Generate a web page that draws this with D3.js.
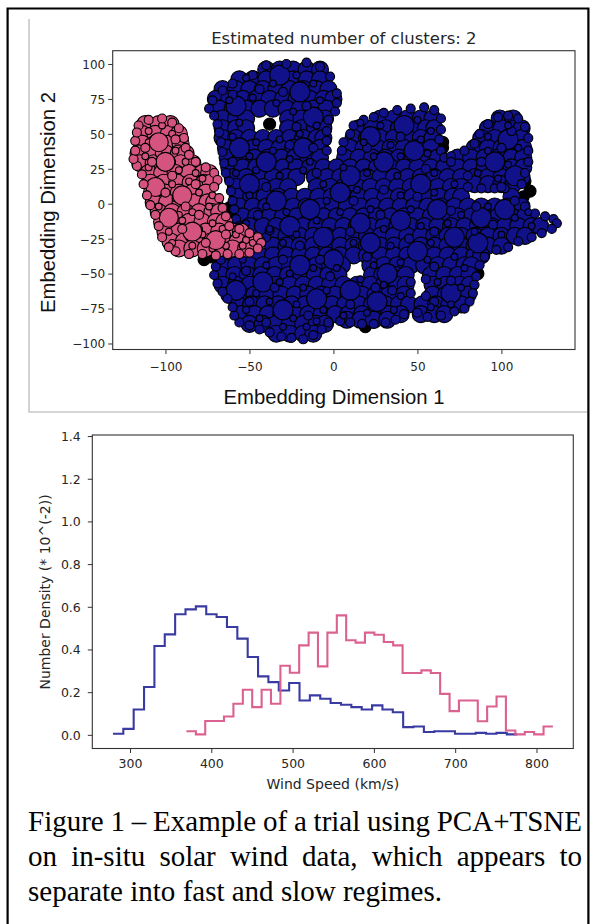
<!DOCTYPE html>
<html>
<head>
<meta charset="utf-8">
<script src="https://cdn.jsdelivr.net/npm/d3@7"></script>
<style>
  html, body { margin: 0; padding: 0; background: #fff; }
  svg { display: block; }
</style>
</head>
<body>
<script>
// ---------------- data ----------------
// Tick values
const embedTicksX = [-100, -50, 0, 50, 100];
const embedTicksY = [-100, -75, -50, -25, 0, 25, 50, 75, 100];
const speedTicks = [300, 400, 500, 600, 700, 800];
const densityTicks = [0.0, 0.2, 0.4, 0.6, 0.8, 1.0, 1.2, 1.4];

// t-SNE embedding, slow-wind cluster (navy). Rows: [dim2, dim1, dim1, ...]
const slowRows = [
  [96, -40,-32,-24,-16,-8],
  [89, -56,-48,-40,-32,-24,-16,-8],
  [82, -66,-58,-50,-42,-34,-26,-18,-10,-3],
  [75, -70,-62,-54,-46,-38,-30,-22,-14,-6,0],
  [68, -68,-60,-52,-44,-36,-28,-20,-12,-4],
  [61, -66,-58,-52,-27,-19,-11,-5, 28,36,44,52,59, 99,107],
  [54, -66,-58,-52,-27,-19,-11,-6, 15,23,31,39,47,55,60, 92,100,108,112],
  [47, -66,-58,-50,-42,-34,-26,-18,-10,-6, 12,20,28,36,44,52,59, 88,96,104,112],
  [40, -64,-56,-48,-40,-32,-24,-16,-8, 10,18,26,34,42,50,58, 84,92,100,108,113],
  [33, -63,-55,-47,-39,-31,-23,-15,-8, 7,15,23,31,39,47,55,62, 74,82,90,98,106,113],
  [26, -62,-54,-46,-38,-30,-22,-14,-6,2,10,18,26,34,42,50,58,66,74,82,90,98,106,113],
  [19, -60,-52,-44,-36,-28,-22,-11,-4,4,12,20,28,36,44,52,60,68,76,84,92,100,108,112],
  [14, 84,92,100,107],
  [12, -58,-50,-42,-34,-27, -10,-2,6,14,22,30,38,46,54,62,70,76],
  [5, -57,-49,-41,-33,-25,-17,-9,-1,7,15,23,31,39,47,55,63,71,76, 106],
  [-2, -56,-48,-40,-32,-24,-16,-8,0,8,16,24,32,40,48,56,64,72,80,88,96,104,112],
  [-9, -54,-46,-38,-30,-22,-14,-6,2,10,18,26,34,42,50,58,66,74,82,90,98,106,114],
  [-16, -50,-42,-34,-26,-18,-10,-2,6,14,22,30,38,46,54,62,70,78,86,94,102,110,118,123],
  [-23, -36,-28,-20,-12,-4,4,12,20,28,36,44,52,60,68,76,84,92,100,108,114],
  [-30, -36,-28,-20,-12,-4,4,12,20,28,36,44,52,60,68,76,84,92,100],
  [-37, -60,-52,-44,-36,-28,-20,-12,-4,4,12,20,28,36,44,52,60,68,76,84,88],
  [-44, -66,-58,-50,-42,-34,-26,-18,-10,-2,5, 22,30,38,46,54,62,70,78,82],
  [-51, -67,-59,-51,-43,-35,-27,-19,-11,-3,3, 23,29,37,43, 58,66,74,81],
  [-58, -66,-58,-50,-42,-34,-26,-18,-10,-2,6,14,22,30,38,43, 59,67,75,81],
  [-65, -62,-55,-47,-39,-31,-23,-15,-7,1,9,17,25,33,42, 59,67,75,80],
  [-72, -57,-49,-41,-33,-25,-17,-9,-1,7,15,23,31,39,45, 53,61,69,76],
  [-79, -55,-47,-39,-31,-23,-15,-7,1,9,17,25,33,40, 52,60,66],
  [-83, 8,16,24,32],
  [-86, -50,-42,-34,-26,-18,-10,-5],
  [-93, -34,-26,-18,-12]
];
// larger markers of the slow cluster: [dim1, dim2]
const slowLarge = [
  [-32,92],[-20,80],[-58,70],[-12,62],[-56,40],[-40,30],[-18,40],[-50,14],[-34,2],[-14,-4],
  [4,8],[22,48],[42,56],[48,38],[30,30],[10,20],[52,14],[62,-4],[40,-12],[22,-28],[-6,-24],
  [-20,-44],[-42,-56],[-30,-76],[-10,-68],[10,-62],[26,-70],[32,-50],[72,-24],[88,-10],
  [102,-4],[104,46],[96,30],[108,20],[70,-64],[-58,-62],[0,-40],[16,-14],[-26,-16],[50,-34],[86,-28]
];
// smaller markers of the slow cluster: [dim1, dim2]
const slowSmall = [
  [-48,92],[-40,99],[-28,100],[-16,101],[-8,98],[-2,91],[-60,86],[-66,81],[-72,74],[-74,68],[2,79],[2,72],[1,66],
  [-71,63],[-69,57],[-68,51],[-67,44],[-66,37],[-65,29],[-64,22],[-62,16],[-61,9],[-60,2],[-59,-4],[-58,-11],[-56,-16],
  [10,50],[12,56],[18,60],[24,62],[30,65],[38,67],[46,68],[54,69],[60,67],[64,61],[64,53],[63,46],[64,38],[66,33],
  [6,44],[5,38],[-3,60],[-4,52],[-4,45],[-4,38],
  [70,34],[78,38],[84,43],[87,50],[92,57],[98,62],[104,63],[110,61],[114,55],[116,47],[116,38],[116,30],[114,22],[112,14],
  [80,12],[88,11],[96,11],[102,11],
  [108,2],[114,-2],[120,-7],[126,-9],[131,-11],[133,-14],[130,-18],[124,-21],[118,-24],[110,-27],[104,-31],[97,-33],
  [90,-38],[87,-44],[85,-52],[84,-58],[83,-64],[81,-70],[78,-75],[72,-77],[64,-80],[56,-81],[50,-78],
  [46,-56],[46,-64],[55,-54],[55,-66],
  [4,-84],[10,-85],[17,-86],[24,-86],[31,-85],[37,-83],[42,-79],
  [-3,-85],[-7,-90],[-12,-94],[-18,-97],[-25,-96],[-31,-95],[-38,-92],[-44,-90],[-50,-87],[-56,-85],[-59,-80],
  [-60,-74],[-63,-68],[-66,-63],[-69,-57],[-71,-51],[-70,-45],[-67,-40],[-63,-37],[-57,-34],[-50,-31],[-44,-28],[-40,-24],[-38,-19],
  [-30,80],[-16,70],[-60,30],[-40,12],[-10,22],[20,40],[40,48],[30,10],[55,25],[80,20],[100,12],[95,-15],[70,-5],
  [45,-25],[20,-38],[-20,-30],[-45,-8],[-35,-60],[-15,-80],[10,-72],[35,-62],[60,-45],[70,-55],[100,40],[106,52],
  [-26,42],[-12,40],[10,-20],[-2,-52],[-22,55],[-60,78],[-44,82],[28,-8],[50,5],[85,-2],[60,-20],[-30,-40],
  [-50,-70],[-40,-85],[25,-60],[60,-70],[70,30],[88,30],[-52,-48],[-8,-40],[12,2]
];
// tiny markers scattered through the slow cluster: [dim1, dim2]
const slowTiny = [
  [-52,90],[-36,86],[-22,92],[-12,86],[-62,74],[-48,76],[-34,72],[-24,66],[-8,74],[-56,58],[-60,48],[-46,44],
  [-32,46],[-20,50],[-10,56],[-50,34],[-36,38],[-26,32],[-14,30],[-58,22],
  [-46,24],[-32,20],[-18,24],[-6,14],[-50,6],[-40,-2],[-28,-6],[-4,2],[-52,-14],[-38,-18],[-22,-22],[-10,-12],[-30,-28],
  [16,58],[28,56],[50,60],[58,52],[18,44],[34,42],[52,46],[24,34],[40,34],[56,36],
  [6,26],[20,22],[38,20],[60,22],[72,14],[14,10],[40,6],[60,8],[4,-6],[22,-4],[46,-4],[76,-8],[30,-18],[52,-16],
  [68,-14],[12,-28],[34,-30],[58,-28],
  [92,48],[104,56],[110,40],[92,38],[104,28],[86,22],[98,18],
  [92,-2],[108,-10],[118,-16],[100,-22],[84,-20],[116,-6],
  [-54,-40],[-40,-44],[-26,-50],[-12,-46],[2,-46],[24,-44],[40,-42],[56,-40],[72,-38],[78,-46],[-60,-52],[-46,-64],
  [-32,-56],[-18,-60],[-4,-62],[16,-54],[30,-58],[40,-66],[62,-56],[76,-60],[-52,-76],[-38,-70],[-22,-72],[-6,-76],
  [6,-80],[20,-78],[36,-76],[58,-74],[70,-72],[-44,-82],[-30,-88],[-16,-88],[-24,-82],[-10,-84]
];

// t-SNE embedding, fast-wind cluster (pink). Rows: [dim2, dim1, dim1, ...]
const fastRows = [
  [57, -112,-104,-97],
  [50, -114,-106,-98,-92],
  [43, -114,-106,-98,-91],
  [36, -116,-108,-100,-92,-88],
  [29, -115,-107,-99,-91,-84],
  [22, -110,-102,-94,-86,-78,-74],
  [15, -109,-101,-93,-85,-77,-73],
  [8, -108,-100,-92,-84,-76],
  [1, -107,-99,-91,-83,-75,-71],
  [-6, -104,-96,-88,-80,-72,-68],
  [-13, -102,-94,-86,-78,-70,-65],
  [-20, -100,-92,-84,-76,-68,-60,-55],
  [-27, -97,-89,-81,-73,-65,-57,-49,-46],
  [-32, -92,-84,-76,-68,-60,-52]
];
const fastLarge = [
  [-100,30],[-106,12],[-90,6],[-98,-10],[-84,-20],[-70,-26],[-104,44]
];
const fastSmall = [
  [-116,56],[-110,60],[-102,61],[-96,58],[-92,54],[-89,47],[-88,40],[-86,35],[-82,30],[-76,26],[-71,22],[-69,17],
  [-71,12],[-68,4],[-66,-3],[-64,-9],[-62,-16],[-56,-18],[-50,-21],[-45,-24],[-43,-28],[-45,-32],[-50,-35],[-56,-36],
  [-63,-36],[-70,-37],[-78,-36],[-86,-36],[-94,-34],[-98,-31],[-102,-24],[-104,-16],[-106,-8],[-109,-1],[-111,6],
  [-113,14],[-114,21],[-117,27],[-119,32],[-118,38],[-118,45],[-117,51],
  [-108,30],[-96,20],[-88,-2],[-80,-8],[-90,-18],[-76,-28],[-64,-22],[-112,40],[-100,8],[-82,14],[-94,46]
];
const fastTiny = [
  [-110,52],[-102,56],[-96,50],[-110,44],[-102,46],[-94,38],[-112,34],[-104,36],[-96,30],[-88,30],[-110,26],
  [-100,26],[-92,24],[-82,22],[-106,16],[-96,14],[-86,16],[-78,18],[-104,8],[-94,4],[-80,8],[-72,6],[-104,-2],
  [-92,-8],[-84,-6],[-74,-2],[-100,-12],[-90,-12],[-80,-18],[-72,-14],[-98,-20],[-86,-24],[-78,-22],[-66,-18],
  [-58,-22],[-52,-26],[-96,-28],[-84,-30],[-72,-32],[-64,-30],[-54,-30],[-48,-28]
];

// unassigned (noise) observations: [dim1, dim2]
const noisePoints = [
  [-77,-40],[-73,-38],[-62,-3],[-62,-7],[-38,57],[65,44],[65,40],[114,16],[117,9],[113,5],
  [7,-84],[12,-82],[19,-88],[86,-50]
];

// Wind-speed histograms (number density, x 10^-2)
const slowEdges = [279, 291.75, 304.5, 317.25, 330, 342.75, 355.5, 368.25, 381, 393.75, 406.5, 419.25, 432,
  444.75, 457.5, 470.25, 483, 495.75, 508.5, 521.25, 534, 546.75, 559.5, 572.25, 585, 597.75, 610.5, 623.25,
  636, 648.75, 661.5, 674.25, 687, 699.75, 712.5, 725.25, 738, 750.75, 763.5, 776.25];
const slowDensity = [0.005, 0.028, 0.119, 0.224, 0.416, 0.471, 0.565, 0.588, 0.602, 0.565,
  0.552, 0.505, 0.451, 0.365, 0.274, 0.247, 0.208, 0.243, 0.161, 0.185,
  0.169, 0.149, 0.141, 0.130, 0.119, 0.138, 0.119, 0.106, 0.036, 0.039,
  0.013, 0.017, 0.017, 0.005, 0.005, 0.009, 0.005, 0.009, 0.002];
const fastEdges = [369.4, 381, 392.5, 404.1, 415.6, 427.2, 438.8, 450.3, 461.9, 473.4, 485, 496.6, 508.1,
  519.7, 531.2, 542.8, 554.4, 565.9, 577.5, 589, 600.6, 612.2, 623.7, 635.3, 646.8, 658.4, 670, 681.5,
  693.1, 704.6, 716.2, 727.8, 739.3, 750.9, 762.4, 774, 785.6, 797.1, 808.7, 820.2];
const fastDensity = [0.017, 0.002, 0.065, 0.065, 0.086, 0.146, 0.211, 0.130, 0.211, 0.146,
  0.324, 0.291, 0.419, 0.479, 0.321, 0.479, 0.560, 0.443, 0.432, 0.479,
  0.469, 0.435, 0.419, 0.290, 0.290, 0.302, 0.290, 0.192, 0.111, 0.161,
  0.161, 0.064, 0.133, 0.180, 0.020, 0.002, 0.013, 0.002, 0.039];

const captionLines = [
  "Figure 1 – Example of a trial using PCA+TSNE",
  "on in-situ solar wind data, which appears to",
  "separate into fast and slow regimes."
];

// ---------------- drawing ----------------
const W = 592, H = 924;
const svg = d3.select("body").append("svg").attr("width", W).attr("height", H);
svg.append("rect").attr("width", W).attr("height", H).attr("fill", "#fff");

const SANS = "'DejaVu Sans', Verdana, sans-serif";
const ARIAL = "'Liberation Sans', Arial, sans-serif";
const SERIF = "'Liberation Serif', 'Times New Roman', serif";
const TXT = "#262626";

// page border and the light frame around the embedding figure
svg.append("path").attr("d", `M7.6,${H} V8.5 H588.4 V${H}`)
  .attr("fill", "none").attr("stroke", "#000").attr("stroke-width", 2.2);
svg.append("path").attr("d", "M29,19 V412 H587")
  .attr("fill", "none").attr("stroke", "#c9c9c9").attr("stroke-width", 1.6);

function styleAxis(g, size) {
  g.select(".domain").remove();
  g.selectAll(".tick line").attr("stroke", "#333").attr("stroke-width", 1);
  g.selectAll(".tick text").attr("fill", TXT).attr("font-family", SANS).attr("font-size", size);
}

// ===== Embedding scatter =====
const A1 = { left: 112.7, right: 575, top: 50.7, bottom: 349.5 };
const x1 = d3.scaleLinear().domain([-131.4, 143.8]).range([A1.left, A1.right]);
const y1 = d3.scaleLinear().domain([-104.3, 109.5]).range([A1.bottom, A1.top]);

svg.append("clipPath").attr("id", "clip1").append("rect")
  .attr("x", A1.left).attr("y", A1.top).attr("width", A1.right - A1.left).attr("height", A1.bottom - A1.top);
const gScatter = svg.append("g").attr("clip-path", "url(#clip1)");

const fromRows = rows => rows.flatMap(r => r.slice(1).map(x => [x, r[0]]));
function dots(pts, r, fill) {
  gScatter.append("g").selectAll("circle").data(pts).join("circle")
    .attr("cx", d => x1(d[0])).attr("cy", d => y1(d[1])).attr("r", r)
    .attr("fill", fill).attr("stroke", "#000").attr("stroke-width", 1.15);
}
const NAVY = "#11118a", PINK = "#d4547f";
dots(noisePoints, 6, "#000");
dots(fromRows(slowRows), 8.5, NAVY);
dots(slowLarge, 10, NAVY);
dots(slowSmall, 4.5, NAVY);
dots(slowTiny, 3.4, NAVY);
dots(fromRows(fastRows), 8.5, PINK);
dots(fastTiny, 3.4, PINK);
dots(fastLarge, 9.5, PINK);
dots(fastSmall, 4.5, PINK);

svg.append("rect").attr("x", A1.left).attr("y", A1.top)
  .attr("width", A1.right - A1.left).attr("height", A1.bottom - A1.top)
  .attr("fill", "none").attr("stroke", "#333").attr("stroke-width", 1.1);

const ax1x = svg.append("g").attr("transform", `translate(0,${A1.bottom})`)
  .call(d3.axisBottom(x1).tickValues(embedTicksX).tickSize(4.5));
styleAxis(ax1x, 12);
ax1x.selectAll(".tick text").attr("y", 21.5).attr("dy", null);

const ax1y = svg.append("g").attr("transform", `translate(${A1.left},0)`)
  .call(d3.axisLeft(y1).tickValues(embedTicksY).tickSize(4.5));
styleAxis(ax1y, 12);
ax1y.selectAll(".tick text").attr("x", -7.5).attr("dy", "0.36em");

svg.append("text").attr("x", 343.9).attr("y", 44).attr("text-anchor", "middle")
  .attr("font-family", SANS).attr("font-size", 16.5).attr("fill", TXT)
  .text("Estimated number of clusters: 2");
svg.append("text").attr("x", 334).attr("y", 404).attr("text-anchor", "middle")
  .attr("font-family", ARIAL).attr("font-size", 20.3).attr("fill", "#111")
  .text("Embedding Dimension 1");
svg.append("text").attr("transform", "translate(55,202.5) rotate(-90)").attr("text-anchor", "middle")
  .attr("font-family", ARIAL).attr("font-size", 20.3).attr("fill", "#111")
  .text("Embedding Dimension 2");

// ===== Wind-speed histograms =====
const A2 = { left: 92.3, right: 573.3, top: 435, bottom: 748.5 };
const x2 = d3.scaleLinear().domain([253.6, 845.3]).range([A2.left, A2.right]);
const y2 = d3.scaleLinear().domain([-0.064, 1.405]).range([A2.bottom, A2.top]);

const stepLine = d3.line().x(d => x2(d[0])).y(d => y2(d[1])).curve(d3.curveStepAfter);
function stepPoints(edges, vals) {
  const pts = vals.map((v, i) => [edges[i], v]);
  pts.push([edges[edges.length - 1], vals[vals.length - 1]]);
  return pts;
}
svg.append("path").datum(stepPoints(slowEdges, slowDensity)).attr("d", stepLine)
  .attr("fill", "none").attr("stroke", "#2f2f9e").attr("stroke-width", 2.1).attr("stroke-opacity", 0.95);
svg.append("path").datum(stepPoints(fastEdges, fastDensity)).attr("d", stepLine)
  .attr("fill", "none").attr("stroke", "#d9588a").attr("stroke-width", 2.1).attr("stroke-opacity", 0.95);

svg.append("rect").attr("x", A2.left).attr("y", A2.top)
  .attr("width", A2.right - A2.left).attr("height", A2.bottom - A2.top)
  .attr("fill", "none").attr("stroke", "#333").attr("stroke-width", 1.1);

const ax2x = svg.append("g").attr("transform", `translate(0,${A2.bottom})`)
  .call(d3.axisBottom(x2).tickValues(speedTicks).tickSize(4.5));
styleAxis(ax2x, 12.5);
ax2x.selectAll(".tick text").attr("y", 19.5).attr("dy", null);

const ax2y = svg.append("g").attr("transform", `translate(${A2.left},0)`)
  .call(d3.axisLeft(y2).tickValues(densityTicks).tickSize(4.5).tickFormat(d3.format(".1f")));
styleAxis(ax2y, 12.5);
ax2y.selectAll(".tick text").attr("x", -11.5).attr("dy", "0.36em");

svg.append("text").attr("x", 332.8).attr("y", 789).attr("text-anchor", "middle")
  .attr("font-family", SANS).attr("font-size", 14).attr("fill", TXT)
  .text("Wind Speed (km/s)");
svg.append("text").attr("transform", "translate(50,592) rotate(-90)").attr("text-anchor", "middle")
  .attr("font-family", SANS).attr("font-size", 14).attr("fill", TXT)
  .text("Number Density (* 10^(-2))");

// ===== Caption (justified) =====
const capX0 = 28, capX1 = 582, capBase = [830.5, 865.5, 900.5], capSize = 29;
captionLines.forEach((line, i) => {
  const words = line.split(" ");
  const t = svg.append("text").attr("y", capBase[i])
    .attr("font-family", SERIF).attr("font-size", capSize).attr("fill", "#000");
  const spans = words.map(w => t.append("tspan").text(w));
  const widths = spans.map(s => s.node().getComputedTextLength());
  const last = i === captionLines.length - 1;
  const gap = last ? capSize * 0.25 : (capX1 - capX0 - d3.sum(widths)) / (words.length - 1);
  let x = capX0;
  spans.forEach((s, k) => { s.attr("x", x); x += widths[k] + gap; });
});
</script>
</body>
</html>
